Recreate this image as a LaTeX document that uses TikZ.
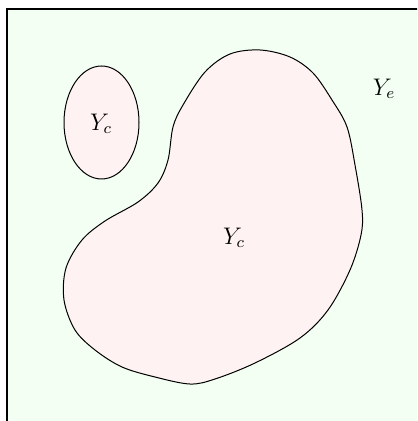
\documentclass[tikz,border=0pt]{standalone}
\begin{document}
\begin{tikzpicture}[x=0.5pt,y=-0.5pt,
  region/.style={draw=black, line width=0.5pt, fill=red!5},
  lbl/.style={inner sep=0pt, font=\large}]
\useasboundingbox (0,0) rectangle (417,421);
\clip (0,0) rectangle (417,421);
\fill[white] (0,0) rectangle (417,421);
\draw[fill=green!5, line width=0.6pt] (7,9) rectangle (460,460);
\draw[region] (101.5,122.5) ellipse [x radius=37.5, y radius=56.5];
\draw[region] plot[smooth cycle, tension=0.55] coordinates {
  (260,50) (290,57) (313,73) (332,100) (347,127) (355,165) (362,210) (361,235)
  (350,270) (328,310) (300,338) (255,363) (215,379) (190,384) (155,377)
  (122,367) (95,350) (75,330) (64,300) (66,268) (82,240) (105,221) (138,202)
  (158,183) (168,160) (173,127) (183,105) (205,72) (230,54)};
\node[lbl] (c1) at (101,124) {$Y_c$};
\node[lbl] (c2) at (234,238) {$Y_c$};
\node[lbl] (e) at (384,89) {$Y_e$};
\end{tikzpicture}
\end{document}
